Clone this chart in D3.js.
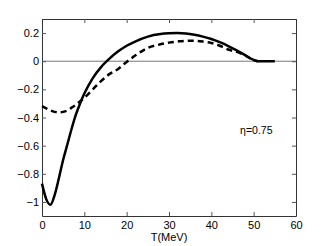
<!DOCTYPE html>
<html>
<head>
<meta charset="utf-8">
<script src="https://cdn.jsdelivr.net/npm/d3@7"></script>
<style>
  body { margin: 0; background: #fff; }
  text { font-family: "Liberation Sans", Arial, sans-serif; }
</style>
</head>
<body>
<div id="wrapper"></div>
<script>
// data
const tSolid = [0, 1, 2, 3, 4, 5, 6, 7, 8, 9, 10, 12, 14, 16, 18, 20, 22, 25, 28, 30, 32, 34, 36, 38, 40, 42, 44, 46, 48, 50, 51, 53, 55]
const solidVals = [-0.87, -0.98, -1.02, -0.95, -0.83, -0.7, -0.59, -0.48, -0.38, -0.3, -0.23, -0.12, -0.04, 0.02, 0.07, 0.11, 0.14, 0.175, 0.193, 0.198, 0.2, 0.197, 0.188, 0.175, 0.158, 0.135, 0.108, 0.077, 0.043, 0.01, 0, 0, 0]
const tDashed = [0, 1, 2, 3, 4, 5, 6, 7, 8, 9, 10, 12, 14, 16, 18, 20, 22, 25, 28, 30, 32, 34, 36, 38, 40, 42, 44, 46, 48, 50, 51]
const dashedVals = [-0.32, -0.335, -0.35, -0.36, -0.365, -0.36, -0.35, -0.33, -0.31, -0.285, -0.26, -0.2, -0.14, -0.09, -0.055, -0.005, 0.04, 0.095, 0.12, 0.132, 0.14, 0.145, 0.145, 0.14, 0.13, 0.11, 0.083, 0.066, 0.04, 0.008, 0]
const xTicks = [0, 10, 20, 30, 40, 50, 60]
const yTicks = [-1, -0.8, -0.6, -0.4, -0.2, 0, 0.2]
const label = "η=0.75"

const dimensions = {
  width: 327,
  height: 246,
  margin: { top: 19, right: 31, bottom: 30, left: 42 }
}
dimensions.boundedWidth = dimensions.width - dimensions.margin.left - dimensions.margin.right
dimensions.boundedHeight = dimensions.height - dimensions.margin.top - dimensions.margin.bottom

const svg = d3.select("#wrapper").append("svg")
  .attr("width", dimensions.width)
  .attr("height", dimensions.height)

const bounds = svg.append("g")
  .attr("transform", `translate(${dimensions.margin.left},${dimensions.margin.top})`)

const xScale = d3.scaleLinear().domain([0, 60]).range([0, dimensions.boundedWidth])
const yScale = d3.scaleLinear().domain([-1.1, 0.3]).range([dimensions.boundedHeight, 0])

// zero line
bounds.append("line")
  .attr("x1", 0).attr("x2", dimensions.boundedWidth)
  .attr("y1", yScale(0)).attr("y2", yScale(0))
  .attr("stroke", "#777").attr("stroke-width", 1)

const fmt = d => d3.format("")(d).replace("-", "\u2212")

// axes, matlab style box with inward ticks
const xAxis = bounds.append("g")
  .attr("transform", `translate(0,${dimensions.boundedHeight})`)
  .call(d3.axisBottom(xScale).tickValues(xTicks).tickSizeInner(-4).tickSizeOuter(0).tickPadding(5).tickFormat(fmt))
const xTop = bounds.append("g")
  .call(d3.axisTop(xScale).tickValues(xTicks).tickSizeInner(-4).tickSizeOuter(0).tickFormat(""))
const yAxis = bounds.append("g")
  .call(d3.axisLeft(yScale).tickValues(yTicks).tickSizeInner(-4).tickSizeOuter(0).tickPadding(3).tickFormat(fmt))
const yRight = bounds.append("g")
  .attr("transform", `translate(${dimensions.boundedWidth},0)`)
  .call(d3.axisRight(yScale).tickValues(yTicks).tickSizeInner(-4).tickSizeOuter(0).tickFormat(""))

bounds.selectAll(".domain").attr("stroke", "#333")
bounds.selectAll(".tick line").attr("stroke", "#555")
bounds.selectAll(".tick text")
  .style("font-size", "11px")
  .style("font-family", "\"Liberation Sans\", Arial, sans-serif")
  .attr("fill", "#000")

// curves
const solidData = tSolid.map((t, i) => ({ t, v: solidVals[i] }))
const dashedData = tDashed.map((t, i) => ({ t, v: dashedVals[i] }))

const lineGen = d3.line()
  .x(d => xScale(d.t))
  .y(d => yScale(d.v))
  .curve(d3.curveMonotoneX)

bounds.append("path")
  .attr("d", lineGen(dashedData))
  .attr("fill", "none")
  .attr("stroke", "#000")
  .attr("stroke-width", 2.5)
  .attr("stroke-dasharray", "6 4")

bounds.append("path")
  .attr("d", lineGen(solidData))
  .attr("fill", "none")
  .attr("stroke", "#000")
  .attr("stroke-width", 2.5)

// annotation
bounds.append("text")
  .attr("x", xScale(46.8))
  .attr("y", yScale(-0.52))
  .style("font-size", "10.5px")
  .text(label)

// x label
svg.append("text")
  .attr("x", dimensions.margin.left + dimensions.boundedWidth / 2)
  .attr("y", 241)
  .attr("text-anchor", "middle")
  .style("font-size", "11px")
  .text("T(MeV)")
</script>
</body>
</html>
